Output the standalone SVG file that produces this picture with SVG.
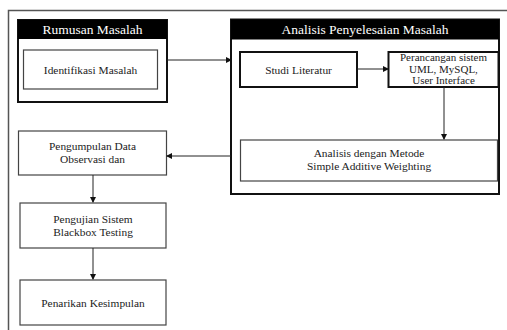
<svg xmlns="http://www.w3.org/2000/svg" width="507" height="330" viewBox="0 0 507 330">
<style>
.t{font-family:"Liberation Serif","Times New Roman",serif;font-size:11.4px;fill:#222;text-anchor:middle}
.s{font-size:11px}
.h{font-family:"Liberation Serif","Times New Roman",serif;font-size:13.5px;fill:#fff;text-anchor:middle}
.thick{fill:#fff;stroke:#111;stroke-width:2}
.thin{fill:#fff;stroke:#444;stroke-width:1.2}
.c{fill:none;stroke:#222;stroke-width:1}
</style>
<defs>
<marker id="a" markerWidth="6" markerHeight="6" refX="5" refY="3" orient="auto" markerUnits="userSpaceOnUse">
<path d="M0,0 L6,3 L0,6 Z" fill="#111"/>
</marker>
</defs>
<rect width="507" height="330" fill="#fff"/>
<path d="M8.5,330 V10.5 H507" fill="none" stroke="#555" stroke-width="1.5"/>
<g id="rumusan">
<rect class="thick" x="18" y="20" width="149" height="82"/>
<rect x="18" y="20" width="149" height="19" fill="#000"/>
<text class="h" x="92.5" y="34">Rumusan Masalah</text>
</g>
<g id="identifikasi">
<rect class="thin" x="23.5" y="50" width="134" height="39"/>
<text class="t" x="90.5" y="73.5">Identifikasi Masalah</text>
</g>
<g id="analisis">
<rect class="thick" x="231" y="19.5" width="268" height="174.5"/>
<rect x="231" y="19.5" width="268" height="20" fill="#000"/>
<text class="h" x="365" y="34">Analisis Penyelesaian Masalah</text>
</g>
<g id="studi">
<rect class="thick" x="240" y="52" width="117" height="35"/>
<text class="t" x="298.5" y="73.5">Studi Literatur</text>
</g>
<g id="perancangan">
<rect class="thick" x="388.5" y="52" width="110" height="35"/>
<text class="t s" x="443.5" y="61">Perancangan sistem</text>
<text class="t s" x="443.5" y="72.5">UML, MySQL,</text>
<text class="t s" x="443.5" y="84">User Interface</text>
</g>
<g id="metode">
<rect class="thin" x="240.5" y="140" width="257" height="41"/>
<text class="t" x="369" y="156.5">Analisis dengan Metode</text>
<text class="t" x="369" y="170">Simple Additive Weighting</text>
</g>
<g id="pengumpulan">
<rect class="thin" x="18.5" y="131" width="148" height="44"/>
<text class="t" x="92.5" y="150">Pengumpulan Data</text>
<text class="t" x="92.5" y="163">Observasi dan</text>
</g>
<g id="pengujian">
<rect class="thin" x="20" y="203" width="146" height="45"/>
<text class="t" x="93" y="223">Pengujian Sistem</text>
<text class="t" x="93" y="236">Blackbox Testing</text>
</g>
<g id="penarikan">
<rect class="thin" x="20" y="280" width="146" height="45"/>
<text class="t" x="93" y="306.5">Penarikan Kesimpulan</text>
</g>
<g id="connectors">
<line class="c" x1="167" y1="60" x2="231" y2="60" marker-end="url(#a)"/>
<line class="c" x1="357" y1="69" x2="388" y2="69" marker-end="url(#a)"/>
<line class="c" x1="444" y1="87" x2="444" y2="139" marker-end="url(#a)"/>
<line class="c" x1="231" y1="156" x2="167" y2="156" marker-end="url(#a)"/>
<line class="c" x1="93" y1="175" x2="93" y2="202" marker-end="url(#a)"/>
<line class="c" x1="93" y1="248" x2="93" y2="279" marker-end="url(#a)"/>
</g>
</svg>
